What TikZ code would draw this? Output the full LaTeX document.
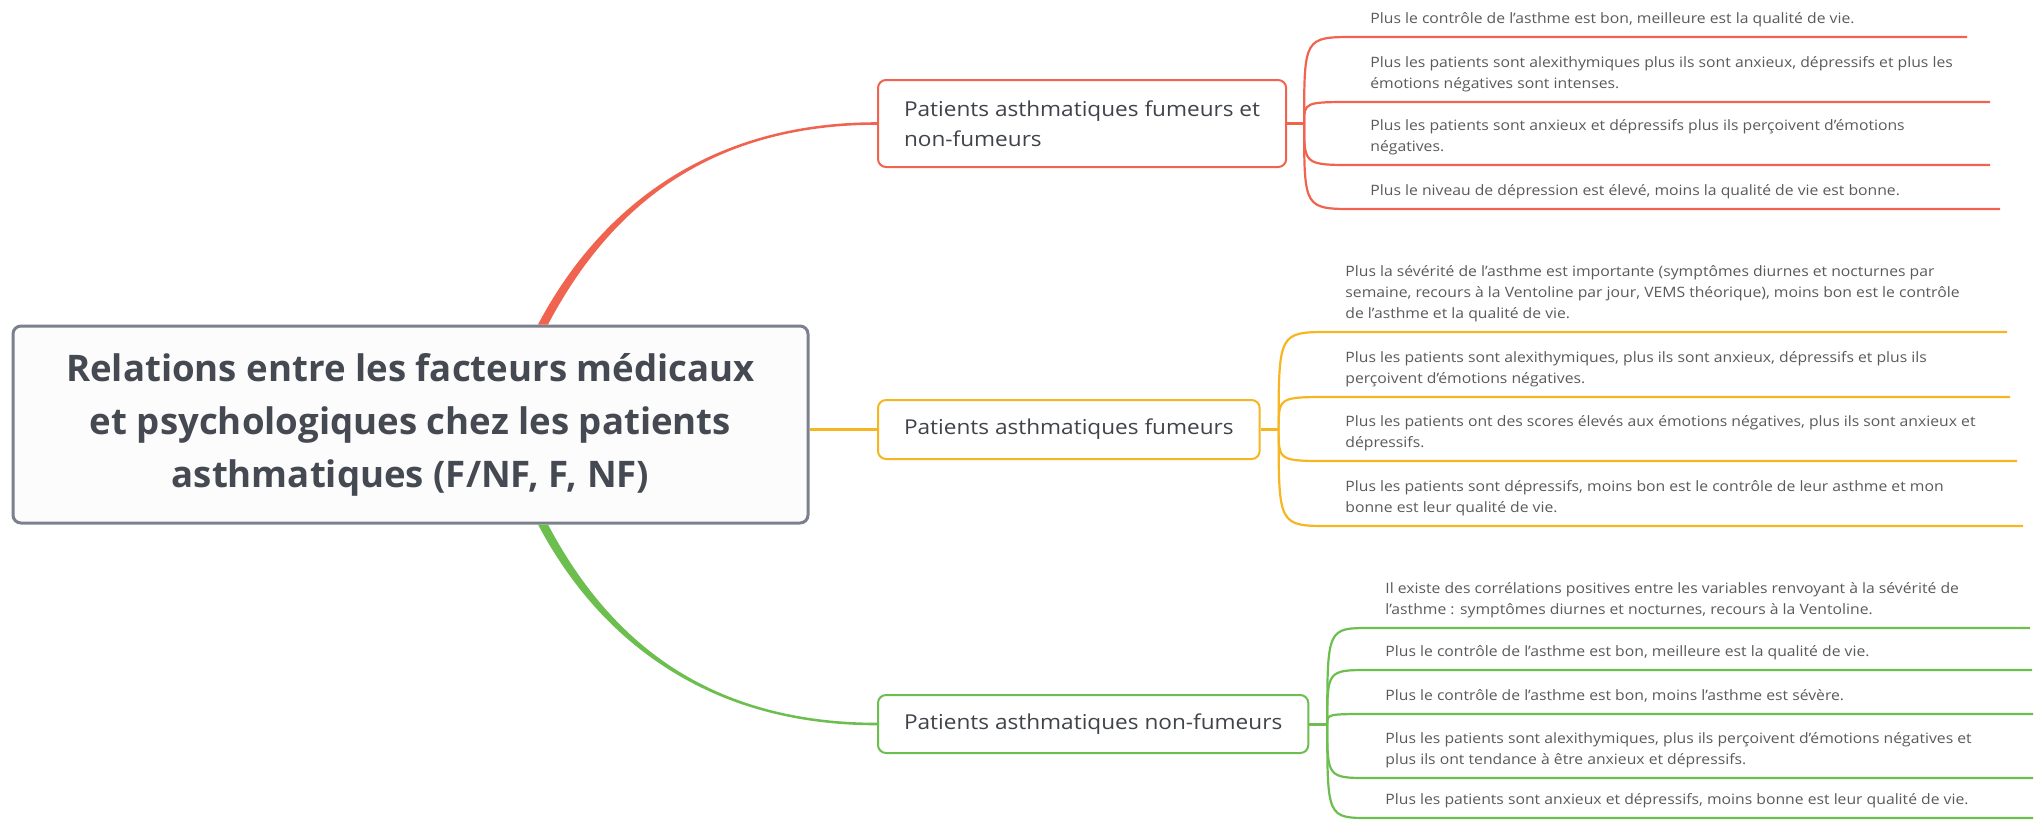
\documentclass[tikz,border=0pt]{standalone}
\usepackage{fontspec}
\setmainfont{Open Sans}
\newfontfamily\widefont{Open Sans}[FakeStretch=1.1]
\usetikzlibrary{positioning, calc}
\definecolor{redc}{HTML}{F0644F}
\definecolor{yelc}{HTML}{F6B622}
\definecolor{grnc}{HTML}{6CBE4F}
\definecolor{rootline}{HTML}{7B818C}
\definecolor{rootfill}{HTML}{FCFCFD}
\definecolor{titletext}{HTML}{454A52}
\definecolor{topictext}{HTML}{40444A}
\definecolor{leaftext}{HTML}{5A5A5A}
\tikzset{
 rootbox/.style={draw=rootline, fill=rootfill, line width=1.5pt, rounded corners=4pt,
 align=center, text=titletext, font=\fontsize{18.3}{26.5}\selectfont\bfseries},
 topicbox/.style={draw=#1, fill=white, line width=1pt, rounded corners=4pt, anchor=west,
 align=left, inner xsep=13pt, inner ysep=8pt, text=topictext,
 font=\widefont\fontsize{10.27}{15}\selectfont},
 leaf/.style={anchor=south west, align=left, inner xsep=7.5pt, inner ysep=6.5pt,
 text depth=0pt, text=leaftext, font=\widefont\fontsize{7.15}{10.5}\selectfont},
 twig/.style={line width=1.1pt},
 stub/.style={line width=1.5pt}
}

\begin{document}
\begin{tikzpicture}[x=0.5pt, y=-0.5pt]
 \useasboundingbox (0,0) rectangle (2037,821);
 \node[rootbox, minimum width=397.5pt, minimum height=98.5pt] (root) at (410.5,424.5)
 {Relations entre les facteurs médicaux\\et psychologiques chez les patients\\asthmatiques (F/NF, F, NF)};

 \node[topicbox=redc, minimum height=43.5pt] (both) at (877,123.5)
 {Patients asthmatiques fumeurs et\\non-fumeurs};
 \node[topicbox=yelc, minimum height=29.5pt] (fum) at (877,429.5)
 {Patients asthmatiques fumeurs};
 \node[topicbox=grnc, minimum height=29pt] (nonfum) at (877,724)
 {Patients asthmatiques non-fumeurs};

 % main branches, thick at the root
 \coordinate (rs) at ($(root.north)+(132.5,0)$);
 \coordinate (gs) at ($(root.south)+(132.5,0)$);
 \fill[redc] ($(rs)+(-5,0)$) .. controls ($(rs)+(52,-108)$) and ($(both.west)+(-177,-1.3)$) .. ($(both.west)+(0,-1.3)$)
 -- ($(both.west)+(0,1.3)$) .. controls ($(both.west)+(-177,1.3)$) and ($(rs)+(62,-108)$) .. ($(rs)+(5,0)$) -- cycle;
 \fill[grnc] ($(gs)+(-5,0)$) .. controls ($(gs)+(52,108)$) and ($(nonfum.west)+(-177,1.3)$) .. ($(nonfum.west)+(0,1.3)$)
 -- ($(nonfum.west)+(0,-1.3)$) .. controls ($(nonfum.west)+(-177,-1.3)$) and ($(gs)+(62,108)$) .. ($(gs)+(5,0)$) -- cycle;
 \draw[yelc, line width=1.8pt] (root.east |- fum.west) -- (fum.west);

 \coordinate (bothfork) at ($(both.east)+(17,0)$);
 \coordinate (fumfork) at ($(fum.east)+(18,0)$);
 \coordinate (nonfumfork) at ($(nonfum.east)+(18,0)$);
 \draw[redc, stub] (both.east) -- (bothfork);
 \draw[yelc, stub] (fum.east) -- (fumfork);
 \draw[grnc, stub] (nonfum.east) -- (nonfumfork);

 \foreach \n/\uy/\len/\txt in {
 1/37/612/{Plus le contrôle de l’asthme est bon, meilleure est la qualité de vie.},
 2/102/635/{Plus les patients sont alexithymiques plus ils sont anxieux, dépressifs et plus les\\émotions négatives sont intenses.},
 3/165/635/{Plus les patients sont anxieux et dépressifs plus ils perçoivent d’émotions\\négatives.},
 4/209/645/{Plus le niveau de dépression est élevé, moins la qualité de vie est bonne.}}{
 \node[leaf] (both\n) at (1355,\uy) {\txt};
 \draw[redc, twig] (bothfork) .. controls (bothfork |- both\n.south west) .. (both\n.south west) -- ++(\len,0);
 }

 \foreach \n/\uy/\len/\txt in {
 1/332/677/{Plus la sévérité de l’asthme est importante (symptômes diurnes et nocturnes par\\semaine, recours à la Ventoline par jour, VEMS théorique), moins bon est le contrôle\\de l’asthme et la qualité de vie.},
 2/397/680/{Plus les patients sont alexithymiques, plus ils sont anxieux, dépressifs et plus ils\\perçoivent d’émotions négatives.},
 3/461/687/{Plus les patients ont des scores élevés aux émotions négatives, plus ils sont anxieux et\\dépressifs.},
 4/526/693/{Plus les patients sont dépressifs, moins bon est le contrôle de leur asthme et mon\\bonne est leur qualité de vie.}}{
 \node[leaf] (fum\n) at (1330,\uy) {\txt};
 \draw[yelc, twig] (fumfork) .. controls (fumfork |- fum\n.south west) .. (fum\n.south west) -- ++(\len,0);
 }

 \foreach \n/\uy/\len/\txt in {
 1/628/660/{Il existe des corrélations positives entre les variables renvoyant à la sévérité de\\l’asthme : symptômes diurnes et nocturnes, recours à la Ventoline.},
 2/670/662/{Plus le contrôle de l’asthme est bon, meilleure est la qualité de vie.},
 3/714/663/{Plus le contrôle de l’asthme est bon, moins l’asthme est sévère.},
 4/778/663/{Plus les patients sont alexithymiques, plus ils perçoivent d’émotions négatives et\\plus ils ont tendance à être anxieux et dépressifs.},
 5/818/663/{Plus les patients sont anxieux et dépressifs, moins bonne est leur qualité de vie.}}{
 \node[leaf] (nonfum\n) at (1370,\uy) {\txt};
 \draw[grnc, twig] (nonfumfork) .. controls (nonfumfork |- nonfum\n.south west) .. (nonfum\n.south west) -- ++(\len,0);
 }
\end{tikzpicture}
\end{document}
